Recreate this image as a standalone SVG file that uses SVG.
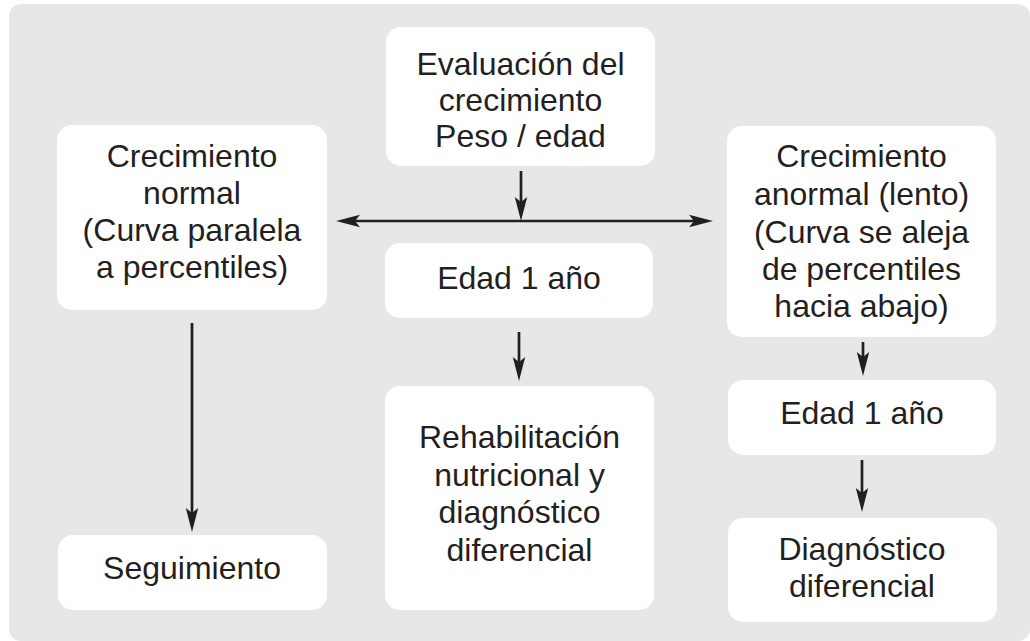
<svg xmlns="http://www.w3.org/2000/svg" width="1030" height="641" viewBox="0 0 1030 641">
<style>
.bg{fill:#e6e7e8}
.box{fill:#ffffff}
.t{font-family:"Liberation Sans",Arial,Helvetica,sans-serif;font-size:32px;fill:#231f20;text-anchor:middle}
.c{stroke:#231f20;stroke-width:2.7;fill:none}
</style>
<defs>
<marker id="ah" viewBox="0 -7 25 14" refX="5" refY="0" markerWidth="25" markerHeight="14" markerUnits="userSpaceOnUse" orient="auto-start-reverse">
<path d="M0,-6.2 L24,0 L0,6.2 L5,0 Z" fill="#231f20"/>
</marker>
</defs>
<rect class="bg" x="9" y="4" width="1021" height="637" rx="12"/>
<g id="connectors">
<line class="c" x1="355" y1="221" x2="694" y2="221" marker-start="url(#ah)" marker-end="url(#ah)"/>
<line class="c" x1="521" y1="171" x2="521" y2="202" marker-end="url(#ah)"/>
<line class="c" x1="192" y1="323" x2="192" y2="513" marker-end="url(#ah)"/>
<line class="c" x1="519" y1="332" x2="519" y2="362" marker-end="url(#ah)"/>
<line class="c" x1="863" y1="342" x2="863" y2="357" marker-end="url(#ah)"/>
<line class="c" x1="862" y1="460" x2="862" y2="493" marker-end="url(#ah)"/>
</g>
<g id="evaluacion">
<rect class="box" x="386" y="27" width="269" height="139" rx="15"/>
<text class="t" x="520.5" y="75">Evaluación del</text>
<text class="t" x="520.5" y="111">crecimiento</text>
<text class="t" x="520.5" y="147">Peso / edad</text>
</g>
<g id="normal">
<rect class="box" x="57" y="125" width="270" height="185" rx="15"/>
<text class="t" x="192" y="167">Crecimiento</text>
<text class="t" x="192" y="204">normal</text>
<text class="t" x="192" y="241">(Curva paralela</text>
<text class="t" x="192" y="278">a percentiles)</text>
</g>
<g id="anormal">
<rect class="box" x="727" y="126" width="269" height="211" rx="15"/>
<text class="t" x="861.5" y="167">Crecimiento</text>
<text class="t" x="861.5" y="205">anormal (lento)</text>
<text class="t" x="861.5" y="243">(Curva se aleja</text>
<text class="t" x="861.5" y="280">de percentiles</text>
<text class="t" x="861.5" y="317">hacia abajo)</text>
</g>
<g id="edad-centro">
<rect class="box" x="385" y="243" width="268" height="75" rx="15"/>
<text class="t" x="519" y="289">Edad 1 año</text>
</g>
<g id="rehabilitacion">
<rect class="box" x="385" y="386" width="269" height="224" rx="15"/>
<text class="t" x="519.5" y="448">Rehabilitación</text>
<text class="t" x="519.5" y="486">nutricional y</text>
<text class="t" x="519.5" y="523">diagnóstico</text>
<text class="t" x="519.5" y="561">diferencial</text>
</g>
<g id="seguimiento">
<rect class="box" x="58" y="535" width="269" height="75" rx="15"/>
<text class="t" x="192" y="579">Seguimiento</text>
</g>
<g id="edad-derecha">
<rect class="box" x="728" y="380" width="268" height="75" rx="15"/>
<text class="t" x="862" y="424">Edad 1 año</text>
</g>
<g id="diagnostico">
<rect class="box" x="728" y="518" width="269" height="104" rx="15"/>
<text class="t" x="862" y="560">Diagnóstico</text>
<text class="t" x="862" y="597">diferencial</text>
</g>
</svg>
